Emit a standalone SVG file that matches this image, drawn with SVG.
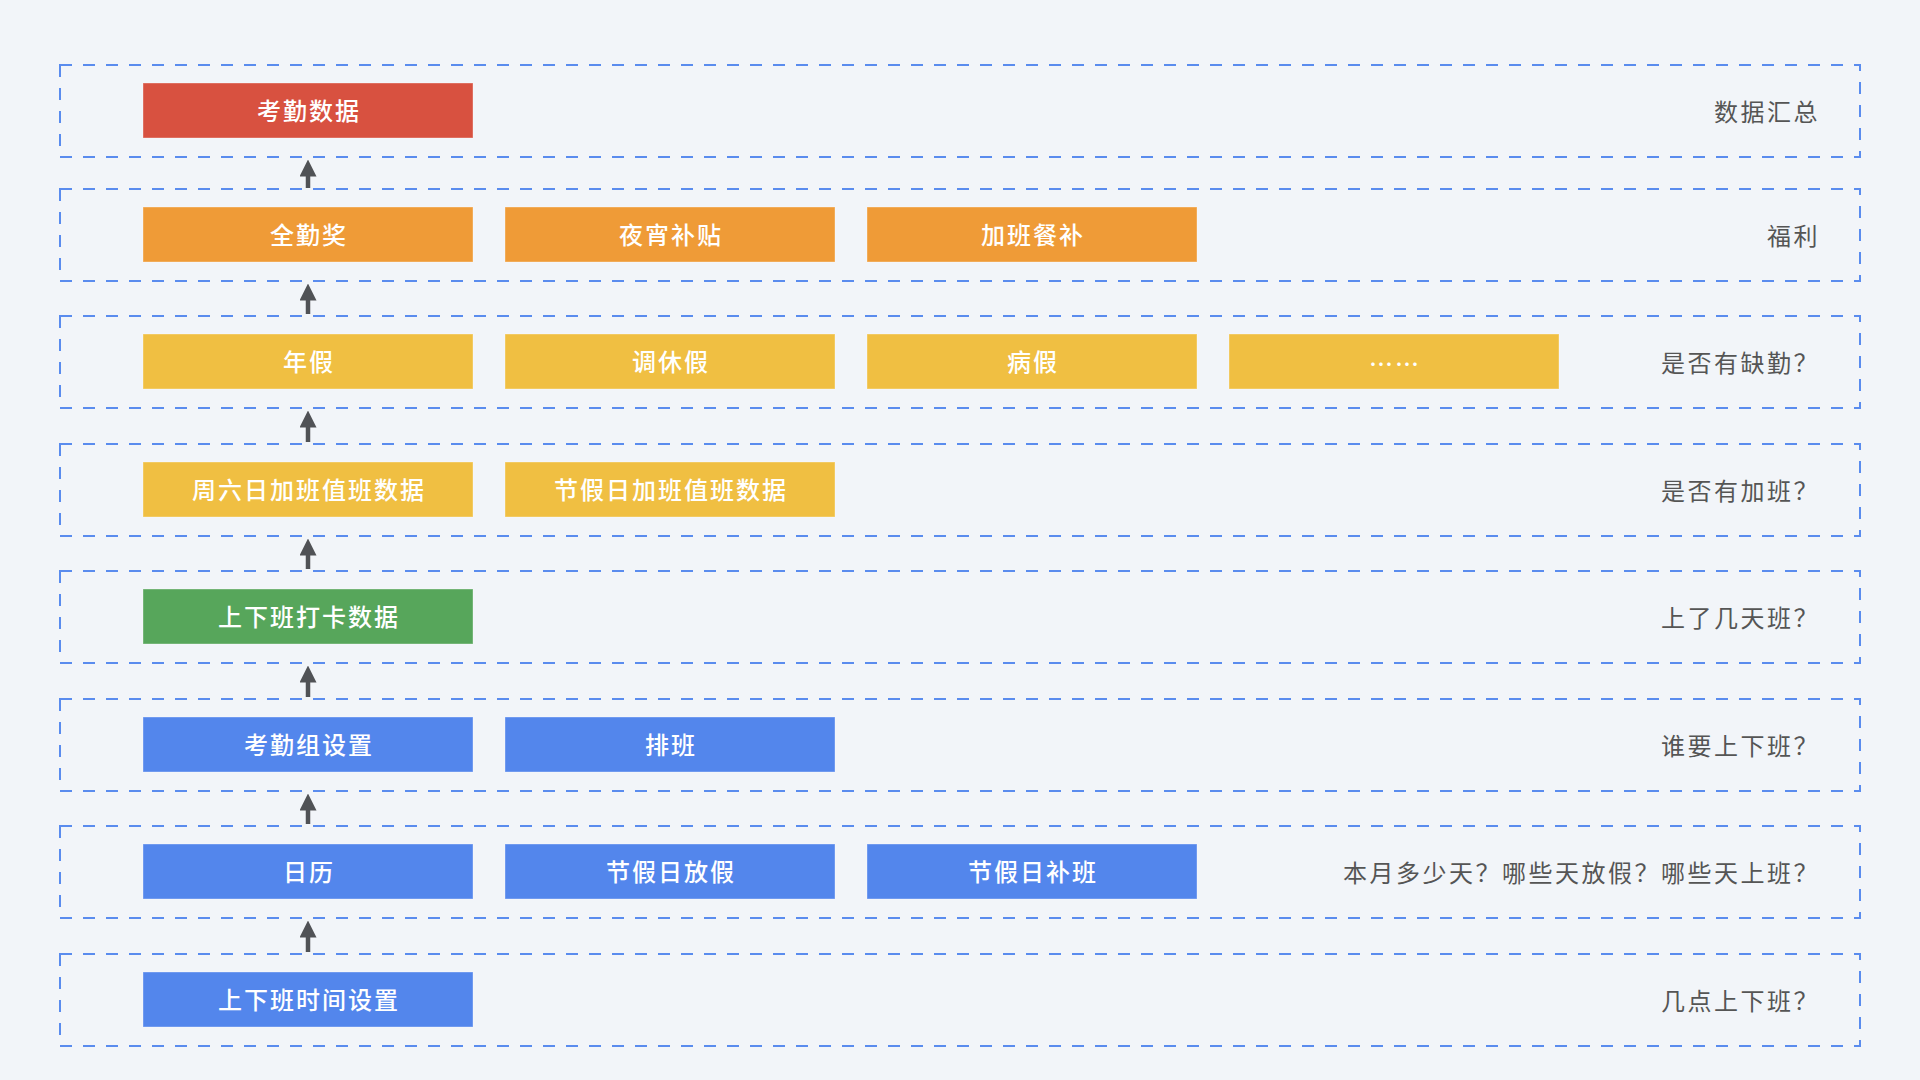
<svg xmlns="http://www.w3.org/2000/svg" width="1920" height="1080" viewBox="0 0 1920 1080">
<defs>
<style>
.row{fill:none;stroke:#5a8cee;stroke-width:2;stroke-dasharray:12 11}
.box{stroke:rgba(255,255,255,0.35);stroke-width:1}
.red{fill:#d85140}.orange{fill:#ef9b37}.yellow{fill:#f0bf42}.green{fill:#57a65b}.blue{fill:#5386ec}
.bt{font-family:"Noto Sans CJK SC","Noto Sans",sans-serif;font-size:24px;fill:#fff;letter-spacing:2px;text-anchor:middle;dominant-baseline:central;font-weight:500}
.lb{font-family:"Noto Sans CJK SC","Noto Sans",sans-serif;font-size:24px;fill:#555;letter-spacing:2.5px;text-anchor:end;dominant-baseline:central}
.arr{stroke:#505256;stroke-width:4.5;fill:none}
</style>
<marker id="ah" markerUnits="userSpaceOnUse" markerWidth="17" markerHeight="17" viewBox="0 0 17 17" refX="0.5" refY="8.5" orient="auto">
<path d="M0 0 L17 8.5 L0 17 Z" fill="#505256"/>
</marker>
</defs>
<rect width="1920" height="1080" fill="#f2f5f9"/>

<g id="rows">
<rect class="row" x="60" y="65" width="1800" height="92"/>
<rect class="row" x="60" y="189" width="1800" height="92"/>
<rect class="row" x="60" y="316" width="1800" height="92"/>
<rect class="row" x="60" y="444" width="1800" height="92"/>
<rect class="row" x="60" y="571" width="1800" height="92"/>
<rect class="row" x="60" y="699" width="1800" height="92"/>
<rect class="row" x="60" y="826" width="1800" height="92"/>
<rect class="row" x="60" y="954" width="1800" height="92"/>
</g>

<g id="labels">
<text class="lb" x="1820" y="110">数据汇总</text>
<text class="lb" x="1820" y="234">福利</text>
<text class="lb" x="1820" y="361">是否有缺勤？</text>
<text class="lb" x="1820" y="489">是否有加班？</text>
<text class="lb" x="1820" y="616">上了几天班？</text>
<text class="lb" x="1820" y="744">谁要上下班？</text>
<text class="lb" x="1820" y="871">本月多少天？哪些天放假？哪些天上班？</text>
<text class="lb" x="1820" y="999">几点上下班？</text>
</g>

<g id="connectors">
<line class="arr" x1="308" y1="188" x2="308" y2="176" marker-end="url(#ah)"/>
<line class="arr" x1="308" y1="314" x2="308" y2="300" marker-end="url(#ah)"/>
<line class="arr" x1="308" y1="442" x2="308" y2="427" marker-end="url(#ah)"/>
<line class="arr" x1="308" y1="569" x2="308" y2="555" marker-end="url(#ah)"/>
<line class="arr" x1="308" y1="697" x2="308" y2="682" marker-end="url(#ah)"/>
<line class="arr" x1="308" y1="824" x2="308" y2="810" marker-end="url(#ah)"/>
<line class="arr" x1="308" y1="952" x2="308" y2="937" marker-end="url(#ah)"/>
</g>

<g id="n-kaoqinshuju"><rect class="box red" x="143" y="83" width="330" height="55"/><text class="bt" x="309" y="109.5">考勤数据</text></g>

<g id="n-quanqinjiang"><rect class="box orange" x="143" y="207" width="330" height="55"/><text class="bt" x="309" y="233.5">全勤奖</text></g>
<g id="n-yexiaobutie"><rect class="box orange" x="505" y="207" width="330" height="55"/><text class="bt" x="671" y="233.5">夜宵补贴</text></g>
<g id="n-jiabancanbu"><rect class="box orange" x="867" y="207" width="330" height="55"/><text class="bt" x="1033" y="233.5">加班餐补</text></g>

<g id="n-nianjia"><rect class="box yellow" x="143" y="334" width="330" height="55"/><text class="bt" x="309" y="360.5">年假</text></g>
<g id="n-tiaoxiujia"><rect class="box yellow" x="505" y="334" width="330" height="55"/><text class="bt" x="671" y="360.5">调休假</text></g>
<g id="n-bingjia"><rect class="box yellow" x="867" y="334" width="330" height="55"/><text class="bt" x="1033" y="360.5">病假</text></g>
<g id="n-etc"><rect class="box yellow" x="1229" y="334" width="330" height="55"/><text class="bt" x="1395" y="362.5">……</text></g>

<g id="n-zhouliuri"><rect class="box yellow" x="143" y="462" width="330" height="55"/><text class="bt" x="309" y="488.5">周六日加班值班数据</text></g>
<g id="n-jiejiari"><rect class="box yellow" x="505" y="462" width="330" height="55"/><text class="bt" x="671" y="488.5">节假日加班值班数据</text></g>

<g id="n-daka"><rect class="box green" x="143" y="589" width="330" height="55"/><text class="bt" x="309" y="615.5">上下班打卡数据</text></g>

<g id="n-kaoqinzu"><rect class="box blue" x="143" y="717" width="330" height="55"/><text class="bt" x="309" y="743.5">考勤组设置</text></g>
<g id="n-paiban"><rect class="box blue" x="505" y="717" width="330" height="55"/><text class="bt" x="671" y="743.5">排班</text></g>

<g id="n-rili"><rect class="box blue" x="143" y="844" width="330" height="55"/><text class="bt" x="309" y="870.5">日历</text></g>
<g id="n-fangjia"><rect class="box blue" x="505" y="844" width="330" height="55"/><text class="bt" x="671" y="870.5">节假日放假</text></g>
<g id="n-buban"><rect class="box blue" x="867" y="844" width="330" height="55"/><text class="bt" x="1033" y="870.5">节假日补班</text></g>

<g id="n-shijian"><rect class="box blue" x="143" y="972" width="330" height="55"/><text class="bt" x="309" y="998.5">上下班时间设置</text></g>
</svg>
